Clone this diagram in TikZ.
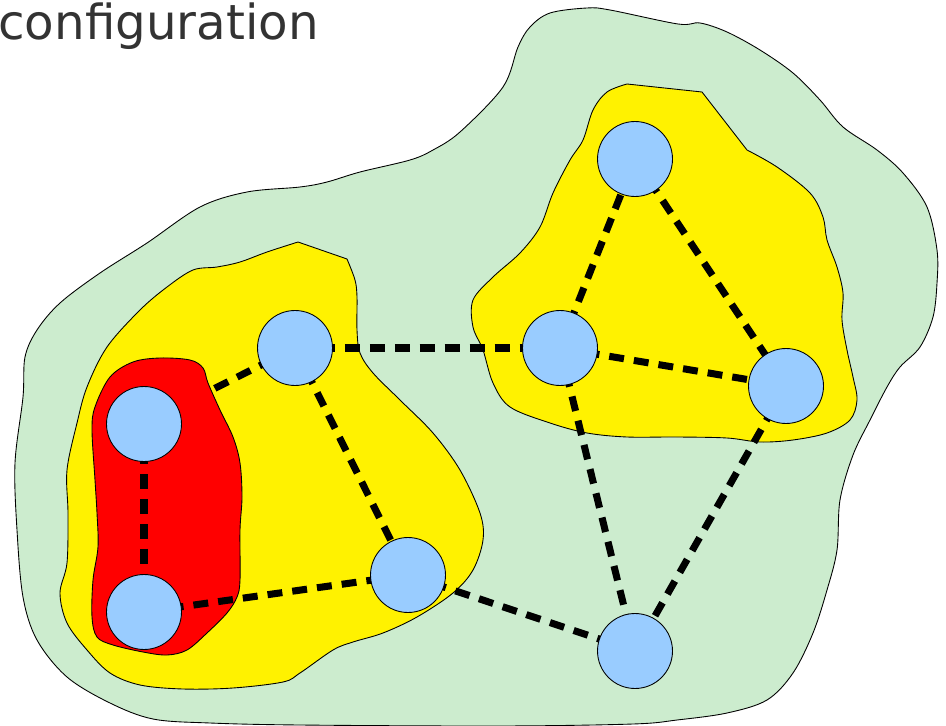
\documentclass[tikz,border=0pt]{standalone}
\usepackage{fontspec}
\newfontfamily\titlefont{DejaVu Sans}
\definecolor{outergreen}{RGB}{204,236,206}
\definecolor{nodeblue}{RGB}{153,204,255}
\definecolor{titlegray}{RGB}{51,51,51}
\tikzset{
  blob/.style={draw=black, line width=0.5pt, line join=round},
  vertex/.style={circle, draw=black, line width=0.5pt, fill=nodeblue, minimum size=1.5cm, inner sep=0pt},
  link/.style={line width=4pt, dash pattern=on 8.5pt off 5.7pt}
}
\begin{document}
\begin{tikzpicture}[x=0.02cm, y=-0.02cm]
\useasboundingbox (0,0) rectangle (946,726);
% vertices (positions)
\coordinate (pA) at (144,424);
\coordinate (pB) at (144,612);
\coordinate (pC) at (295,348);
\coordinate (pD) at (408,575);
\coordinate (pE) at (560,348);
\coordinate (pF) at (635,159);
\coordinate (pG) at (786,386);
\coordinate (pH) at (635,651);
% outer green region
\path[blob, fill=outergreen] plot[smooth cycle, tension=0.55] coordinates {
 (460,132) (503,87) (518,47) (530,27) (550,13) (587,8) (610,10) (678,24) (700,23)
 (727,32) (760,50) (793,73) (820,100) (843,127) (877,150) (903,173) (927,207)
 (937,250) (937,283) (933,317) (920,347) (900,367) (887,387) (870,420) (853,455)
 (840,500) (837,550) (827,590) (813,633) (793,673) (767,700) (727,713) (677,720)
 (633,724) (500,726) (300,725) (210,723) (153,719) (110,703) (67,677) (37,640) (23,597) (17,530)
 (15,463) (23,397) (25,357) (37,330) (60,303) (100,273) (147,243) (200,207)
 (247,192) (300,187) (327,182) (360,172) (410,160) (433,150)};
% left yellow region
\path[blob, fill=yellow] (298,242) -- (347,259) -- plot[smooth, tension=0.55] coordinates {
 (347,259) (355,280) (357,297) (357,330) (360,353) (373,373) (400,400) (433,433)
 (460,470) (480,513) (483,540) (473,570) (453,593) (417,617) (383,633) (353,642)
 (333,650) (300,673) (283,682) (233,688) (183,689) (140,685) (110,673) (87,650)
 (67,623) (60,593) (67,563) (68,513) (67,470) (77,423) (87,387) (107,347)
 (140,310) (167,287) (193,270) (217,267) (240,262) (267,252) (298,242)} -- cycle;
% right yellow region
\path[blob, fill=yellow] (627,84) -- (702,92) -- (747,150) -- plot[smooth, tension=0.55] coordinates {
 (747,150) (777,167) (810,193) (823,217) (827,240) (837,267) (843,293) (842,320)
 (847,350) (853,377) (857,400) (850,420) (827,433) (793,440) (760,442) (727,438)
 (677,437) (627,437) (587,433) (550,423) (510,407) (493,383) (483,350) (473,327)
 (473,300) (493,277) (520,253) (540,227) (553,193) (570,160) (583,140) (593,110)
 (607,92) (627,84)} -- cycle;
% link partly hidden by the red region
\draw[link] (pC) -- (pA);
% red region
\path[blob, fill=red] plot[smooth cycle, tension=0.55] coordinates {
 (160,358) (190,360) (203,368) (208,383) (220,410) (233,437) (240,463) (242,497)
 (240,530) (240,580) (237,597) (227,613) (207,633) (187,650) (167,655) (143,652)
 (113,645) (97,637) (92,617) (93,580) (98,547) (97,513) (95,480) (92,430)
 (95,407) (110,377) (133,362)};
% title
\node[anchor=base west, inner sep=0pt, text=titlegray, font=\titlefont\fontsize{27.5}{32}\selectfont] (title) at (-2,40) {configuration};
% links
\draw[link] (pA) -- (pB);
\draw[link] (pC) -- (pE);
\draw[link] (pC) -- (pD);
\draw[link] (pB) -- (pD);
\draw[link] (pD) -- (pH);
\draw[link] (pE) -- (pF);
\draw[link] (pF) -- (pG);
\draw[link] (pE) -- (pG);
\draw[link] (pE) -- (pH);
\draw[link] (pG) -- (pH);
% vertex circles
\node[vertex] (A) at (pA) {};
\node[vertex] (B) at (pB) {};
\node[vertex] (C) at (pC) {};
\node[vertex] (D) at (pD) {};
\node[vertex] (E) at (pE) {};
\node[vertex] (F) at (pF) {};
\node[vertex] (G) at (pG) {};
\node[vertex] (H) at (pH) {};
\end{tikzpicture}
\end{document}
